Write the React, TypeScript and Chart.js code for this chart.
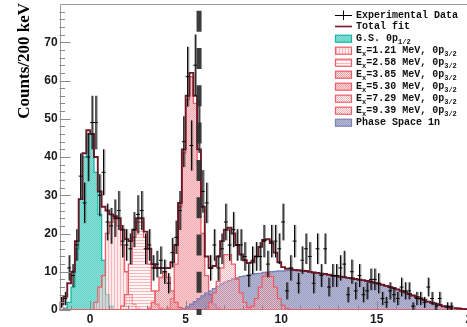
import React, { useEffect, useRef } from "react";
import { Chart, registerables } from "chart.js";

Chart.register(...registerables);

// ---------------- axes ----------------
const X_MIN = -1.6;
const X_MAX = 20;
const Y_MIN = 0;
const Y_MAX = 80;
const BIN_WIDTH = 0.2;
const xMajorTicks = [0, 5, 10, 15, 20];
const xMinorStep = 1;
const yMajorTicks = [0, 10, 20, 30, 40, 50, 60, 70];
const yMinorStep = 2;
const yTitle = "Counts/200 keV";
const thresholdMeV = 5.7;

// ---------------- experimental data (counts per 200 keV, first bin centre -1.5 MeV) ----------------
const dataFirstCentre = -1.5;
const dataCounts = [
  2, 3, 11, 9, 17, 35, 28, 40, 49, 49,
  30, 36, 23, 22, 24, 26, 18, 17, 16, 21,
  25, 26, 16, 17, 11, 12, 13, 10, 7, 15,
  19, 26, 44, 61, 43, 64, 48, 31, 28, 11,
  17, 11, 16, 23, 17, 21, 17, 17, 14, 9,
  13, 14, 14, 18, 12, 18, 18, 16, 23, 5,
  11, 18, 7, 13, 16, 14, 7, 16, 9, 16,
  6, 9, 9, 11, 12, 4, 10, 5, 9, 4,
  5, 8, 8, 7, 3, 2, 5, 4, 3, 6,
  5, 5, 1, 3, 3, 2, 6, 3, 1, 3,
  0, 1, 1, 0, 0, 0, 0, 0,
];

// ---------------- total fit (first bin left edge -1.6 MeV) ----------------
const totalFitStart = -1.6;
const totalFitCounts = [
  1.5, 3.5, 7, 10, 18, 29, 41, 47, 46, 40,
  31, 27, 26, 25, 24.5, 24, 21, 18.5, 18, 21,
  24, 24, 20.5, 16, 12, 11, 11, 11, 11, 12.5,
  17, 28, 42, 56, 62, 56, 42, 27, 14, 11,
  11.5, 14, 18, 21, 21.5, 20, 17, 14.5, 13, 12.3,
  12.5, 14, 16.5, 18.3, 18.5, 17.5, 15, 12.5, 11.2, 10.8,
  10.8, 10.5, 10.4, 10.3, 10.2, 10.0, 9.8, 9.7, 9.5, 9.4,
  9.2, 9.0, 8.9, 8.7, 8.6, 8.4, 8.3, 8.1, 7.9, 7.8,
  7.6, 7.4, 7.1, 6.9, 6.6, 6.3, 6.0, 5.7, 5.4, 5.0,
  4.6, 4.2, 3.8, 3.4, 3.0, 2.6, 2.2, 1.9, 1.6, 1.3,
  1.0, 0.8, 0.6, 0.5, 0.4, 0.3, 0.2, 0.1,
];

// ---------------- fit components (first bin left edge + counts) ----------------
const gsStart = -1.4;
const gsCounts = [0.5, 2, 6, 16, 29, 40, 46, 46, 36, 25, 13, 4, 1];

const ex121Start = 0.2;
const ex121Counts = [2, 6, 9, 20, 23, 24, 22, 17, 10, 4, 1.5, 0.5];

const ex258Start = 1.6;
const ex258Counts = [1, 4, 12, 19, 23, 23, 19, 12, 5, 1.5, 0.5];

const ex385Start = 3.0;
const ex385Counts = [0.5, 2, 5, 8.5, 10, 8.5, 5, 2, 0.7, 0.2];

const ex530Start = 4.0;
const ex530Counts = [0.5, 3, 12, 27, 41, 55, 61, 54, 38, 20, 9, 4, 1.5, 0.5];

const ex729Start = 6.2;
const ex729Counts = [2, 4.5, 7.5, 11, 14.5, 14.5, 12, 8, 4.5, 2, 0.7];

const ex939Start = 8.4;
const ex939Counts = [1, 3, 6, 8.8, 9.5, 8.8, 6, 3, 1.2, 0.4];

const phaseStart = 4.8;
const phaseCounts = [
  0.3, 0.8, 1.5, 2.2, 3.0, 3.7, 4.4, 5.0, 5.6, 6.2,
  6.8, 7.3, 7.7, 8.1, 8.4, 8.7, 8.9, 9.1, 9.3, 9.5,
  9.6, 9.8, 9.9, 10.0, 10.1, 10.2, 10.2, 10.3, 10.3, 10.3,
  10.3, 10.2, 10.1, 10.0, 9.8, 9.7, 9.5, 9.4, 9.2, 9.0,
  8.9, 8.7, 8.5, 8.4, 8.2, 8.0, 7.9, 7.7, 7.5, 7.3,
  7.1, 6.9, 6.6, 6.3, 6.0, 5.7, 5.4, 5.0, 4.6, 4.2,
  3.8, 3.4, 3.0, 2.6, 2.2, 1.9, 1.6, 1.3, 1.0, 0.8,
  0.6, 0.5, 0.4, 0.3, 0.2, 0.1,
];

type Seg = { t: string; sub?: boolean };
const legendExp: Seg[] = [{ t: "Experimental Data" }];
const legendTotal: Seg[] = [{ t: "Total fit" }];
const legendGS: Seg[] = [{ t: "G.S. 0p" }, { t: "1/2", sub: true }];
const exLabel = (e: string): Seg[] => [
  { t: "E" }, { t: "x", sub: true }, { t: "=" + e + " MeV, 0p" }, { t: "3/2", sub: true },
];
const legendPhase: Seg[] = [{ t: "Phase Space 1n" }];

function histPoints(start: number, counts: number[]) {
  const pts: { x: number; y: number }[] = [{ x: X_MIN, y: 0 }, { x: start, y: 0 }];
  counts.forEach((c, i) => pts.push({ x: start + i * BIN_WIDTH, y: c }));
  const end = start + counts.length * BIN_WIDTH;
  pts.push({ x: end, y: 0 });
  if (end < X_MAX) pts.push({ x: X_MAX, y: 0 });
  return pts;
}

function makeTile(ctx: CanvasRenderingContext2D, w: number, h: number, px: [number, number, string][]) {
  const c = document.createElement("canvas");
  c.width = w;
  c.height = h;
  const t = c.getContext("2d")!;
  t.clearRect(0, 0, w, h);
  for (const [x, y, col] of px) {
    t.fillStyle = col;
    t.fillRect(x, y, 1, 1);
  }
  return ctx.createPattern(c, "repeat")!;
}

export default function App() {
  const ref = useRef<HTMLCanvasElement>(null);

  useEffect(() => {
    const canvas = ref.current!;
    const ctx = canvas.getContext("2d")!;

    const pTeal = makeTile(ctx, 2, 2, [
      [0, 0, "#62d3c6"], [1, 1, "#62d3c6"], [1, 0, "#8adfd6"], [0, 1, "#8adfd6"],
    ]);
    const p530 = makeTile(ctx, 2, 2, [
      [0, 0, "rgba(240,150,156,0.78)"], [1, 1, "rgba(240,150,156,0.78)"],
      [1, 0, "rgba(247,188,191,0.75)"], [0, 1, "rgba(247,188,191,0.75)"],
    ]);
    const p121 = makeTile(ctx, 3, 1, [
      [0, 0, "rgba(240,140,148,0.62)"], [1, 0, "rgba(252,222,224,0.6)"], [2, 0, "rgba(252,222,224,0.6)"],
    ]);
    const p258 = makeTile(ctx, 1, 3, [
      [0, 0, "rgba(240,140,148,0.62)"], [0, 1, "rgba(254,236,237,0.55)"], [0, 2, "rgba(254,236,237,0.55)"],
    ]);
    const p385 = makeTile(ctx, 2, 2, [
      [0, 0, "rgba(222,120,128,0.7)"], [1, 1, "rgba(222,120,128,0.7)"],
      [1, 0, "rgba(240,185,188,0.45)"], [0, 1, "rgba(240,185,188,0.45)"],
    ]);
    const p729 = makeTile(ctx, 2, 2, [
      [0, 0, "rgba(240,130,138,0.62)"], [1, 1, "rgba(240,130,138,0.62)"],
      [1, 0, "rgba(255,240,240,0.3)"], [0, 1, "rgba(255,240,240,0.3)"],
    ]);
    const p939 = makeTile(ctx, 2, 2, [
      [0, 0, "rgba(236,118,128,0.62)"], [1, 1, "rgba(236,118,128,0.62)"],
      [1, 0, "rgba(255,235,236,0.25)"], [0, 1, "rgba(255,235,236,0.25)"],
    ]);
    const pPhase = makeTile(ctx, 2, 2, [
      [0, 0, "rgba(90,95,152,0.6)"], [1, 1, "rgba(90,95,152,0.6)"],
      [1, 0, "rgba(115,120,172,0.52)"], [0, 1, "rgba(115,120,172,0.52)"],
    ]);

    const PINK = "#ee5c68";
    const comp = (start: number, counts: number[], bg: any, border: string, order: number) => ({
      type: "line",
      data: histPoints(start, counts),
      stepped: "before",
      fill: "origin",
      backgroundColor: bg,
      borderColor: border,
      borderWidth: 1.3,
      pointRadius: 0,
      tension: 0,
      order,
    });

    const datasets: any[] = [
      {
        type: "scatter",
        label: "Experimental Data",
        data: dataCounts
          .map((c, i) => ({ x: dataFirstCentre + i * BIN_WIDTH, y: c }))
          .filter((p) => p.y > 0),
        pointRadius: 0,
        showLine: false,
        order: 0,
      },
      {
        type: "line",
        label: "Total fit",
        data: histPoints(totalFitStart, totalFitCounts),
        stepped: "before",
        fill: false,
        borderColor: "rgba(105,14,28,0.95)",
        borderWidth: 1.9,
        pointRadius: 0,
        order: 1,
      },
      comp(ex939Start, ex939Counts, p939, PINK, 2),
      comp(ex729Start, ex729Counts, p729, PINK, 3),
      comp(phaseStart, phaseCounts, pPhase, "#7b80b4", 4),
      comp(ex385Start, ex385Counts, p385, PINK, 5),
      comp(ex258Start, ex258Counts, p258, PINK, 6),
      comp(ex121Start, ex121Counts, p121, PINK, 7),
      comp(ex530Start, ex530Counts, p530, PINK, 8),
      comp(gsStart, gsCounts, pTeal, "#16b6a6", 9),
    ];

    const legendBoxes = [
      { segs: legendGS, bg: pTeal, border: "#16b6a6" },
      { segs: exLabel("1.21"), bg: p121, border: PINK },
      { segs: exLabel("2.58"), bg: p258, border: PINK },
      { segs: exLabel("3.85"), bg: p385, border: PINK },
      { segs: exLabel("5.30"), bg: p530, border: PINK },
      { segs: exLabel("7.29"), bg: p729, border: PINK },
      { segs: exLabel("9.39"), bg: p939, border: PINK },
      { segs: legendPhase, bg: pPhase, border: "#7b80b4" },
    ];

    const overlay = {
      id: "rootStyle",
      afterDatasetsDraw(chart: any) {
        const c: CanvasRenderingContext2D = chart.ctx;
        const xs = chart.scales.x;
        const ys = chart.scales.y;
        const area = chart.chartArea;
        c.save();

        // data points with error bars
        const pts = chart.data.datasets[0].data as { x: number; y: number }[];
        for (const p of pts) {
          const err = Math.sqrt(p.y);
          const px = xs.getPixelForValue(p.x);
          const py = ys.getPixelForValue(p.y);
          const t = ys.getPixelForValue(p.y + err);
          const b = ys.getPixelForValue(Math.max(0, p.y - err));
          c.strokeStyle = "rgba(50,50,50,0.5)";
          c.lineWidth = 2;
          c.beginPath();
          c.moveTo(px + 0.8, t);
          c.lineTo(px + 0.8, b);
          c.stroke();
          c.strokeStyle = "#000";
          c.lineWidth = 1;
          c.beginPath();
          c.moveTo(px, t);
          c.lineTo(px, b);
          c.moveTo(xs.getPixelForValue(p.x - BIN_WIDTH / 2), py);
          c.lineTo(xs.getPixelForValue(p.x + BIN_WIDTH / 2), py);
          c.stroke();
        }

        // threshold dashed line
        const tx = xs.getPixelForValue(thresholdMeV);
        c.strokeStyle = "rgba(50,50,50,0.95)";
        c.lineWidth = 5;
        c.setLineDash([21, 16.3]);
        c.lineDashOffset = 30.6;
        c.beginPath();
        c.moveTo(tx, area.top);
        c.lineTo(tx, area.bottom + 5);
        c.stroke();
        c.setLineDash([]);

        // frame
        c.strokeStyle = "#9a9a9a";
        c.lineWidth = 1;
        c.beginPath();
        c.moveTo(Math.round(area.left) + 0.5, area.bottom);
        c.lineTo(Math.round(area.left) + 0.5, Math.round(area.top) + 0.5);
        c.lineTo(area.right, Math.round(area.top) + 0.5);
        c.stroke();

        // y ticks
        c.strokeStyle = "#8a8a8a";
        c.beginPath();
        for (let v = Y_MIN; v < Y_MAX; v += yMinorStep) {
          const y = Math.round(ys.getPixelForValue(v)) + 0.5;
          const len = v % 10 === 0 ? 11 : 5.5;
          c.moveTo(area.left, y);
          c.lineTo(area.left + len, y);
        }
        // x ticks
        for (let v = Math.ceil(X_MIN); v <= X_MAX; v += xMinorStep) {
          const x = Math.round(xs.getPixelForValue(v)) + 0.5;
          const len = v % 5 === 0 ? 9 : 4.5;
          c.moveTo(x, area.bottom);
          c.lineTo(x, area.bottom - len);
        }
        c.stroke();

        // tick labels
        c.fillStyle = "#1a1a1a";
        c.font = "bold 12px 'Liberation Sans', Arial, sans-serif";
        c.textAlign = "right";
        c.textBaseline = "middle";
        for (const v of yMajorTicks) c.fillText(String(v), area.left - 2, ys.getPixelForValue(v));
        c.textAlign = "center";
        c.textBaseline = "top";
        for (const v of xMajorTicks) c.fillText(String(v), xs.getPixelForValue(v), area.bottom + 4);

        // y title
        c.save();
        c.translate(25, 3);
        c.rotate(-Math.PI / 2);
        c.font = "bold 17px 'Liberation Serif', 'Times New Roman', serif";
        c.textAlign = "right";
        c.textBaseline = "middle";
        c.fillStyle = "#000";
        c.fillText(yTitle, 0, 0);
        c.restore();

        // legend
        const symX0 = 335, symX1 = 352, textX = 356;
        const rows = [15, 26.5, 38.7, 50.7, 62.7, 74.7, 86.7, 98.7, 110.7, 122.7];
        const drawSegs = (segs: Seg[], y: number) => {
          let x = textX;
          c.textAlign = "left";
          c.textBaseline = "middle";
          c.fillStyle = "#111";
          for (const s of segs) {
            c.font = s.sub ? "bold 7px 'Liberation Mono', monospace" : "bold 10px 'Liberation Mono', monospace";
            c.fillText(s.t, x, y + (s.sub ? 3.5 : 0));
            x += c.measureText(s.t).width;
          }
        };
        // experimental data symbol
        c.strokeStyle = "#000";
        c.lineWidth = 1;
        c.beginPath();
        c.moveTo(symX0, rows[0] + 0.5);
        c.lineTo(symX1, rows[0] + 0.5);
        c.moveTo((symX0 + symX1) / 2, rows[0] - 4.5);
        c.lineTo((symX0 + symX1) / 2, rows[0] + 5);
        c.stroke();
        drawSegs(legendExp, rows[0]);
        // total fit symbol
        c.strokeStyle = "rgba(105,14,28,0.95)";
        c.lineWidth = 1.6;
        c.beginPath();
        c.moveTo(symX0, rows[1]);
        c.lineTo(symX1, rows[1]);
        c.stroke();
        drawSegs(legendTotal, rows[1]);
        legendBoxes.forEach((lb, i) => {
          const y = rows[i + 2];
          c.fillStyle = "#fff";
          c.fillRect(symX0, y - 3.5, symX1 - symX0, 7);
          c.fillStyle = lb.bg;
          c.fillRect(symX0, y - 3.5, symX1 - symX0, 7);
          c.strokeStyle = lb.border;
          c.lineWidth = 1.2;
          c.strokeRect(symX0 + 0.5, y - 3.5, symX1 - symX0 - 1, 7);
          drawSegs(lb.segs, y);
        });

        c.restore();
      },
    };

    const chart = new Chart(canvas, {
      type: "line",
      data: { datasets },
      options: {
        responsive: false,
        animation: false,
        devicePixelRatio: 1,
        events: [],
        layout: { padding: { left: 59.6, top: 4, right: 7.8, bottom: 17 } },
        scales: {
          x: { type: "linear", min: X_MIN, max: X_MAX, display: false },
          y: { type: "linear", min: Y_MIN, max: Y_MAX, display: false },
        },
        plugins: { legend: { display: false }, tooltip: { enabled: false } },
      },
      plugins: [overlay],
    } as any);

    return () => chart.destroy();
  }, []);

  return (
    <div
      style={{
        position: "fixed",
        left: 0,
        top: 0,
        width: 467,
        height: 327,
        overflow: "hidden",
        background: "#fff",
      }}
    >
      <canvas ref={ref} width={480} height={327} style={{ display: "block", width: 480, height: 327 }} />
    </div>
  );
}
